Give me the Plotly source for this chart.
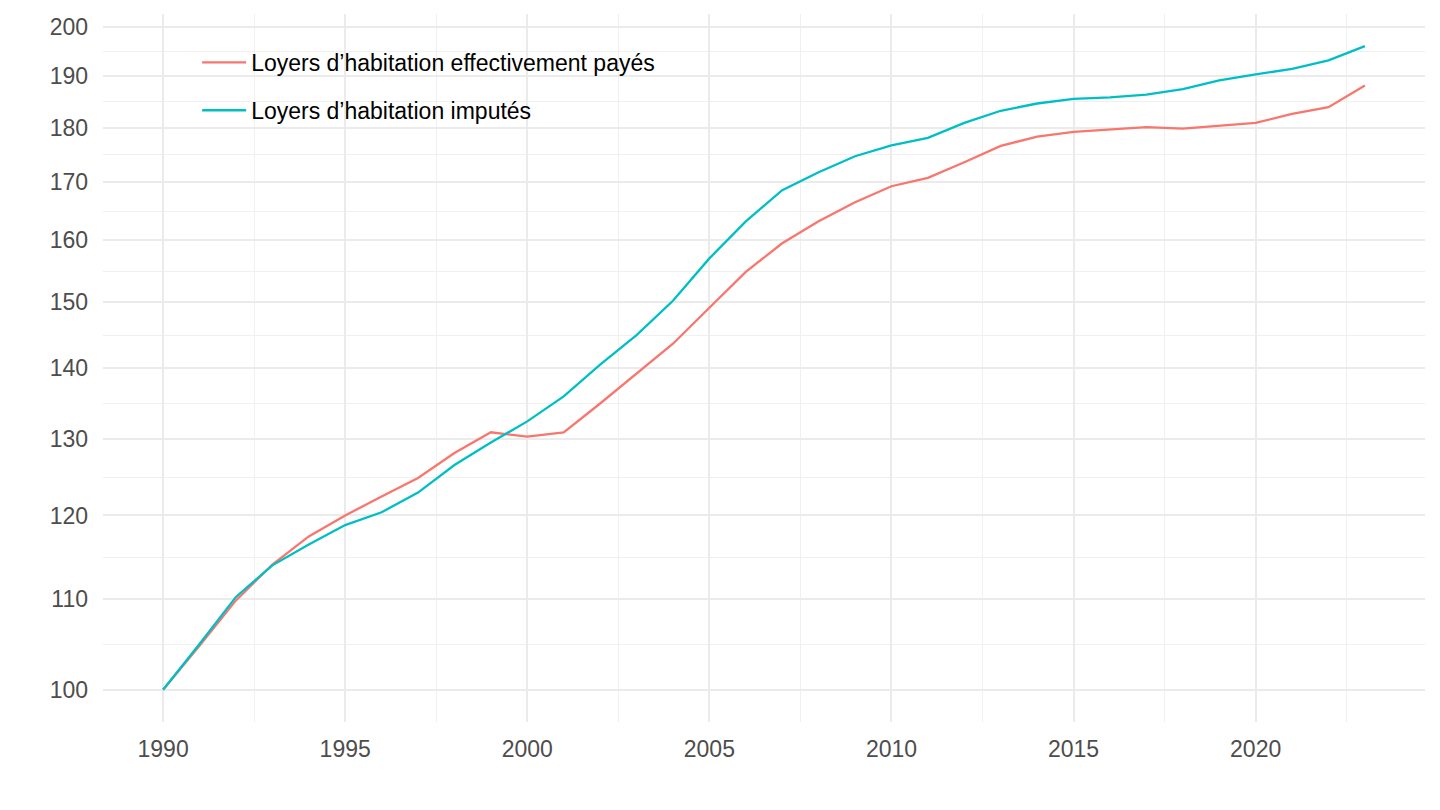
import numpy as np
import plotly.graph_objects as go

years = list(range(1990, 2024))
loyers_payes = [100.0, 104.7, 109.8, 114.0, 117.4, 120.0, 122.4, 124.8, 128.1, 130.9,
                130.3, 130.9, 134.9, 139.2, 143.6, 149.1, 154.8, 159.5, 163.2, 166.5,
                169.3, 170.8, 173.6, 176.6, 178.3, 179.2, 179.7, 180.1, 179.8, 180.4,
                180.9, 182.6, 183.9, 188.1]
loyers_imputes = [100.0, 104.9, 110.2, 113.9, 116.4, 118.8, 120.4, 122.9, 126.5, 129.5,
                  132.4, 135.9, 140.5, 144.9, 150.2, 157.0, 163.2, 168.6, 171.8, 174.7,
                  176.7, 178.1, 180.9, 183.2, 184.6, 185.5, 185.8, 186.3, 187.4, 189.1,
                  190.3, 191.4, 193.1, 196.0]
series_names = ["Loyers d’habitation effectivement payés", "Loyers d’habitation imputés"]
series_colors = ["#F8766D", "#00BFC4"]
y_ticks = [100, 110, 120, 130, 140, 150, 160, 170, 180, 190, 200]
x_ticks = [1990, 1995, 2000, 2005, 2010, 2015, 2020]

FONT = "Liberation Sans, Arial, Helvetica, sans-serif"

fig = go.Figure()
for i, (name, vals, col) in enumerate(zip(series_names, [loyers_payes, loyers_imputes], series_colors)):
    fig.add_trace(go.Scatter(x=years, y=vals, mode="lines", name=name,
                             legendgroup=f"g{i}",
                             line=dict(color=col, width=2.3)))

# ranges like ggplot (5% expansion)
lo, hi = np.log10(min(loyers_payes + loyers_imputes)), np.log10(max(loyers_payes + loyers_imputes))
pad = 0.05 * (hi - lo)
xpad = 0.05 * (years[-1] - years[0])
minor_y = [float(np.sqrt(a * b)) for a, b in zip(y_ticks[:-1], y_ticks[1:])]

fig.update_layout(
    width=1432, height=802,
    paper_bgcolor="white", plot_bgcolor="white",
    margin=dict(l=95, r=15, t=6, b=88),
    font=dict(family=FONT, size=23, color="#4d4d4d"),
    showlegend=True,
    legend=dict(x=0.0712, y=0.962, xanchor="left", yanchor="top",
                bgcolor="rgba(0,0,0,0)", font=dict(size=23, color="black"),
                tracegroupgap=15, itemwidth=44),
    xaxis=dict(range=[years[0] - xpad, years[-1] + xpad], tickmode="array",
               tickvals=x_ticks, showgrid=True, gridcolor="#ebebeb", gridwidth=2.1,
               zeroline=False, showline=False, ticks="", ticklabelstandoff=11,
               automargin=False,
               tickfont=dict(size=23, color="#4d4d4d"),
               minor=dict(tick0=1990, dtick=2.5, showgrid=True, gridcolor="#f0f0f0", gridwidth=1.1)),
    yaxis=dict(type="log", range=[lo - pad, hi + pad], tickmode="array",
               tickvals=y_ticks, ticktext=[str(v) for v in y_ticks],
               showgrid=True, gridcolor="#ebebeb", gridwidth=2.1,
               zeroline=False, showline=False, ticks="", ticklabelstandoff=14,
               automargin=False,
               tickfont=dict(size=23, color="#4d4d4d"),
               minor=dict(tickmode="array", tickvals=minor_y, showgrid=True,
                          gridcolor="#f0f0f0", gridwidth=1.1)),
)

fig.write_html("out.html")
